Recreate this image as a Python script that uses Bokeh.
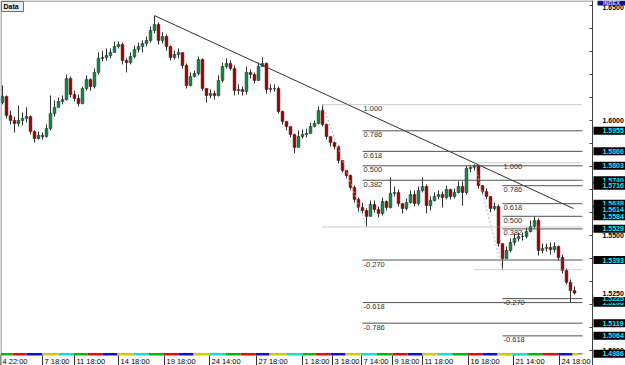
from bokeh.plotting import figure
from bokeh.models import Range1d, ColumnDataSource
from bokeh.embed import file_html
from bokeh.resources import INLINE
from bokeh.core.properties import value

# ---------------- data ----------------
first_open = 1.6078
closes = [1.6104, 1.6022, 1.6000, 1.5987, 1.6000, 1.6009, 1.6017, 1.5952, 1.5922, 1.5935,
          1.5930, 1.5965, 1.6030, 1.6057, 1.6083, 1.6091, 1.6183, 1.6113, 1.6096, 1.6074,
          1.6139, 1.6178, 1.6148, 1.6209, 1.6270, 1.6274, 1.6283, 1.6296, 1.6322, 1.6330,
          1.6261, 1.6252, 1.6278, 1.6309, 1.6322, 1.6335, 1.6348, 1.6391, 1.6417, 1.6348,
          1.6365, 1.6322, 1.6274, 1.6287, 1.6296, 1.6239, 1.6152, 1.6191, 1.6204, 1.6265,
          1.6139, 1.6109, 1.6117, 1.6109, 1.6174, 1.6235, 1.6248, 1.6226, 1.6130, 1.6135,
          1.6126, 1.6209, 1.6200, 1.6174, 1.6235, 1.6248, 1.6135, 1.6139, 1.6139, 1.6039,
          1.5996, 1.5974, 1.5939, 1.5883, 1.5930, 1.5939, 1.5943, 1.5974, 1.5987, 1.6043,
          1.5983, 1.5930, 1.5904, 1.5887, 1.5826, 1.5783, 1.5761, 1.5709, 1.5657, 1.5622,
          1.5609, 1.5583, 1.5635, 1.5613, 1.5596, 1.5648, 1.5622, 1.5683, 1.5687, 1.5639,
          1.5617, 1.5643, 1.5678, 1.5639, 1.5696, 1.5713, 1.5630, 1.5652, 1.5670, 1.5678,
          1.5665, 1.5700, 1.5670, 1.5687, 1.5713, 1.5687, 1.5791, 1.5796, 1.5804, 1.5717,
          1.5691, 1.5670, 1.5617, 1.5626, 1.5465, 1.5400, 1.5435, 1.5470, 1.5487, 1.5496,
          1.5496, 1.5517, 1.5539, 1.5565, 1.5435, 1.5444, 1.5448, 1.5439, 1.5452, 1.5404,
          1.5348, 1.5296, 1.5261, 1.5250]
highs = [1.6152, 1.6109, 1.6043, 1.6017, 1.6065, 1.6035, 1.6057, 1.6022, 1.5957, 1.5952,
         1.5948, 1.5983, 1.6109, 1.6087, 1.6100, 1.6109, 1.6200, 1.6191, 1.6130, 1.6113,
         1.6148, 1.6196, 1.6183, 1.6226, 1.6296, 1.6304, 1.6313, 1.6313, 1.6343, 1.6343,
         1.6339, 1.6270, 1.6296, 1.6326, 1.6339, 1.6348, 1.6365, 1.6409, 1.6456, 1.6426,
         1.6383, 1.6374, 1.6326, 1.6304, 1.6313, 1.6270, 1.6248, 1.6209, 1.6217, 1.6278,
         1.6270, 1.6139, 1.6135, 1.6130, 1.6196, 1.6252, 1.6270, 1.6261, 1.6239, 1.6157,
         1.6148, 1.6235, 1.6222, 1.6209, 1.6252, 1.6274, 1.6252, 1.6157, 1.6157, 1.6148,
         1.6043, 1.5996, 1.5965, 1.5943, 1.5957, 1.5961, 1.5965, 1.5991, 1.6000, 1.6061,
         1.6069, 1.5987, 1.5930, 1.5909, 1.5891, 1.5826, 1.5783, 1.5765, 1.5717, 1.5665,
         1.5643, 1.5617, 1.5652, 1.5652, 1.5626, 1.5665, 1.5652, 1.5752, 1.5713, 1.5700,
         1.5639, 1.5661, 1.5696, 1.5696, 1.5713, 1.5752, 1.5722, 1.5670, 1.5687, 1.5696,
         1.5691, 1.5717, 1.5704, 1.5704, 1.5735, 1.5735, 1.5804, 1.5804, 1.5816, 1.5804,
         1.5717, 1.5704, 1.5670, 1.5643, 1.5635, 1.5461, 1.5452, 1.5487, 1.5509, 1.5513,
         1.5513, 1.5535, 1.5565, 1.5583, 1.5574, 1.5465, 1.5465, 1.5470, 1.5470, 1.5457,
         1.5417, 1.5357, 1.5309, 1.5278]
lows = [1.6070, 1.6009, 1.5983, 1.5948, 1.5974, 1.5978, 1.5991, 1.5939, 1.5904, 1.5917,
        1.5917, 1.5926, 1.5957, 1.6017, 1.6061, 1.6070, 1.6087, 1.6100, 1.6083, 1.6061,
        1.6070, 1.6130, 1.6130, 1.6139, 1.6200, 1.6257, 1.6261, 1.6270, 1.6296, 1.6313,
        1.6244, 1.6209, 1.6244, 1.6270, 1.6296, 1.6296, 1.6322, 1.6339, 1.6378, 1.6330,
        1.6335, 1.6304, 1.6261, 1.6265, 1.6270, 1.6226, 1.6139, 1.6148, 1.6187, 1.6196,
        1.6130, 1.6078, 1.6096, 1.6091, 1.6104, 1.6165, 1.6226, 1.6217, 1.6109, 1.6113,
        1.6109, 1.6113, 1.6183, 1.6161, 1.6174, 1.6235, 1.6117, 1.6122, 1.6126, 1.6030,
        1.5983, 1.5957, 1.5926, 1.5857, 1.5913, 1.5922, 1.5926, 1.5943, 1.5970, 1.5983,
        1.5974, 1.5917, 1.5887, 1.5874, 1.5813, 1.5774, 1.5748, 1.5700, 1.5643, 1.5604,
        1.5596, 1.5537, 1.5600, 1.5600, 1.5578, 1.5587, 1.5609, 1.5617, 1.5670, 1.5626,
        1.5596, 1.5609, 1.5639, 1.5626, 1.5630, 1.5687, 1.5596, 1.5609, 1.5648, 1.5657,
        1.5622, 1.5657, 1.5657, 1.5661, 1.5683, 1.5630, 1.5678, 1.5774, 1.5783, 1.5704,
        1.5678, 1.5657, 1.5600, 1.5609, 1.5452, 1.5351, 1.5400, 1.5426, 1.5457, 1.5474,
        1.5478, 1.5487, 1.5513, 1.5530, 1.5413, 1.5422, 1.5430, 1.5417, 1.5426, 1.5391,
        1.5335, 1.5287, 1.5209, 1.5243]

time_tick_pos = [-0.5, 10, 18, 29, 40.5, 51.75, 63.5, 75, 82.5, 89.75, 97.5, 105, 116.5, 127.75, 139.25]
time_tick_labels = ["4 22:00", "7 18:00", "11 18:00", "14 18:00", "19 18:00", "24 14:00", "27 18:00",
                    "1 18:00", "3 18:00", "7 14:00", "9 18:00", "11 18:00", "16 18:00", "21 14:00", "24 18:00"]

day_bounds = [-0.5, 2.5, 6, 10, 14, 17.75, 21.25, 25, 28.75, 32.75, 36.5, 40.25, 44, 47.75, 51.75,
              55.75, 59.5, 63.25, 66.75, 71, 75, 78.25, 82, 85.75, 89.5, 93.5, 97.5, 101.25, 105,
              108.75, 112.5, 116.25, 120, 123.75, 127.5, 131.25, 135, 139, 142.5, 143.75]
day_palette = ["#10b010", "#e01010", "#1010d0", "#d8c800", "#20d8d8"]

trend_idx = [38, 142.75]
trend_price = [1.6456, 1.5617]

fib_levels = [1.0, 0.786, 0.618, 0.5, 0.382, 0.0, -0.27, -0.618, -0.786]
fib_level_text = ["1.000", "0.786", "0.618", "0.500", "0.382", "", "-0.270", "-0.618", "-0.786"]
fib1_hi, fib1_lo, fib1_hi_idx, fib1_lo_idx, fib1_start = 1.6069, 1.5537, 80, 91, 90
fib2_hi, fib2_lo, fib2_hi_idx, fib2_lo_idx, fib2_start = 1.5816, 1.5351, 118, 125, 125
fib_end = 145

price_tags = [1.5955, 1.5866, 1.5803, 1.5740, 1.5716, 1.5638, 1.5614, 1.5584, 1.5529,
              1.5393, 1.5208, 1.5225, 1.5119, 1.5064, 1.4986]
last_price = 1.5250
axis_ticks = [1.65, 1.60, 1.55, 1.50]
axis_minor = [1.50, 1.51, 1.52, 1.53, 1.54, 1.55, 1.56, 1.57, 1.58, 1.59, 1.60,
              1.61, 1.62, 1.63, 1.64, 1.65]

# ---------------- layout helpers ----------------
W, H = 625, 365
AXIS_PX = 592
PX_PER_UNIT = 2300.0
Y_TOP = 1.6 + 120 / PX_PER_UNIT
BAR = 4.0


def py(px):
    return Y_TOP - px / PX_PER_UNIT


def ix(px):
    return (px - 2) / BAR


FONT = "Liberation Sans"

p = figure(width=W, height=H, output_backend="svg", toolbar_location=None, tools="",
           x_range=Range1d(ix(0), ix(W)), y_range=Range1d(py(H), Y_TOP),
           x_axis_location=None, y_axis_location=None, min_border=0)
p.background_fill_color = "white"
p.border_fill_color = "white"
p.grid.visible = False
p.outline_line_color = None

# ---------------- candles ----------------
opens = [first_open] + closes[:-1]
idx = list(range(len(closes)))
src = ColumnDataSource(dict(
    x=idx, h=highs, l=lows,
    top=[max(o, c) for o, c in zip(opens, closes)],
    bot=[min(o, c) for o, c in zip(opens, closes)],
    color=["#0c8a48" if c >= o else "#a00000" for o, c in zip(opens, closes)],
))
p.segment(x0="x", y0="l", x1="x", y1="h", source=src, line_color="#303030", line_width=1)
p.vbar(x="x", width=0.7, top="top", bottom="bot", source=src,
       fill_color="color", line_color="#262626", line_width=0.5)

# ---------------- trend line ----------------
p.line(trend_idx, trend_price, line_color="#303030", line_width=1)

# ---------------- fibonacci retracements ----------------
for hi, lo, hi_idx, lo_idx, start in [(fib1_hi, fib1_lo, fib1_hi_idx, fib1_lo_idx, fib1_start),
                                      (fib2_hi, fib2_lo, fib2_hi_idx, fib2_lo_idx, fib2_start)]:
    p.line([hi_idx, lo_idx], [hi, lo], line_color="#b4b4b4", line_width=1, line_dash="2 2")
    dark_x0, dark_y, light_x0, light_y = [], [], [], []
    tx, ty, tt = [], [], []
    for lev, txt in zip(fib_levels, fib_level_text):
        yv = lo + lev * (hi - lo)
        if lev in (1.0, 0.0):
            light_x0.append(hi_idx)
            light_y.append(yv)
        else:
            dark_x0.append(start)
            dark_y.append(yv)
        if txt:
            tx.append(start + 0.25)
            ty.append(yv - 1.5 / PX_PER_UNIT)
            tt.append(txt)
    p.segment(x0=dark_x0, y0=dark_y, x1=[fib_end] * len(dark_y), y1=dark_y,
              line_color="#505050", line_width=1)
    p.segment(x0=light_x0, y0=light_y, x1=[fib_end] * len(light_y), y1=light_y,
              line_color="#9a9a9a", line_width=1, line_dash="1 1")
    p.text(x=tx, y=ty, text=tt, text_font=value(FONT), text_font_size="7.5px",
           text_color="#303030", text_baseline="top", text_align="left")

# ---------------- time axis band (white), day strip, separators, labels ----------------
p.quad(left=[ix(0)], right=[ix(AXIS_PX)], bottom=[py(H)], top=[py(355)],
       fill_color="white", line_color=None)
p.quad(left=day_bounds[:-1], right=day_bounds[1:], bottom=py(355), top=py(352.5),
       fill_color=[day_palette[k % 5] for k in range(len(day_bounds) - 1)], line_color=None)
p.segment(x0=time_tick_pos, x1=time_tick_pos, y0=[py(355)] * len(time_tick_pos),
          y1=[py(H)] * len(time_tick_pos), line_color="#303030", line_width=1)
p.text(x=time_tick_pos, y=[py(361)] * len(time_tick_pos), text=time_tick_labels,
       text_font=value(FONT), text_font_size="7.5px", text_color="black",
       text_baseline="alphabetic", text_align="left", x_offset=2)

# frame border (top / left) and price scale line
p.segment(x0=[ix(0.5), ix(0.5)], y0=[py(0.5), py(0.5)], x1=[ix(AXIS_PX), ix(0.5)],
          y1=[py(0.5), py(H)], line_color="#707070", line_width=1)
p.segment(x0=[ix(AXIS_PX)], y0=[py(0)], x1=[ix(AXIS_PX)], y1=[py(H)],
          line_color="#404040", line_width=1)
p.segment(x0=[ix(AXIS_PX - 3)] * len(axis_minor), y0=axis_minor,
          x1=[ix(AXIS_PX)] * len(axis_minor), y1=axis_minor, line_color="#404040", line_width=1)

# ---------------- price scale labels ----------------
TAG_H = 8 / PX_PER_UNIT
tag_left, tag_right, text_x = ix(AXIS_PX + 1), ix(W), ix(602)
p.text(x=[text_x] * len(axis_ticks), y=axis_ticks, text=[f"{v:.4f}" for v in axis_ticks],
       text_font=value(FONT), text_font_size="7px", text_font_style="bold",
       text_color="black", text_baseline="middle", text_align="left", y_offset=[2, 0, 0, 0])
for v in price_tags:
    p.quad(left=[tag_left], right=[tag_right], bottom=[v - TAG_H / 2], top=[v + TAG_H / 2],
           fill_color="black", line_color=None)
    p.text(x=[text_x], y=[v], text=[f"{v:.4f}"], text_font=value(FONT), text_font_size="7px",
           text_font_style="bold", text_color="#00f0f8", text_baseline="middle", text_align="left")
p.quad(left=[tag_left], right=[tag_right], bottom=[last_price - TAG_H / 2],
       top=[last_price + TAG_H / 2], fill_color="white", line_color=None)
p.text(x=[text_x], y=[last_price], text=[f"{last_price:.4f}"], text_font=value(FONT),
       text_font_size="7px", text_font_style="bold", text_color="black",
       text_baseline="middle", text_align="left")

# ---------------- corner captions ----------------
p.quad(left=[ix(1)], right=[ix(23)], bottom=[py(11)], top=[py(1)],
       fill_color="#ececec", line_color="#707070", line_width=1)
p.text(x=[ix(3)], y=[py(6)], text=["Data"], text_font=value(FONT), text_font_size="7px",
       text_font_style="bold", text_color="black", text_baseline="middle", text_align="left")
p.quad(left=[ix(597)], right=[ix(W)], bottom=[py(5)], top=[py(0)],
       fill_color="#101080", line_color=None)
p.text(x=[ix(611)], y=[py(2.6)], text=["INDEX"], text_font=value(FONT), text_font_size="5.5px",
       text_font_style="bold", text_color="#d0d8ff", text_baseline="middle", text_align="center")

open("out.html", "w").write(file_html(p, INLINE))
